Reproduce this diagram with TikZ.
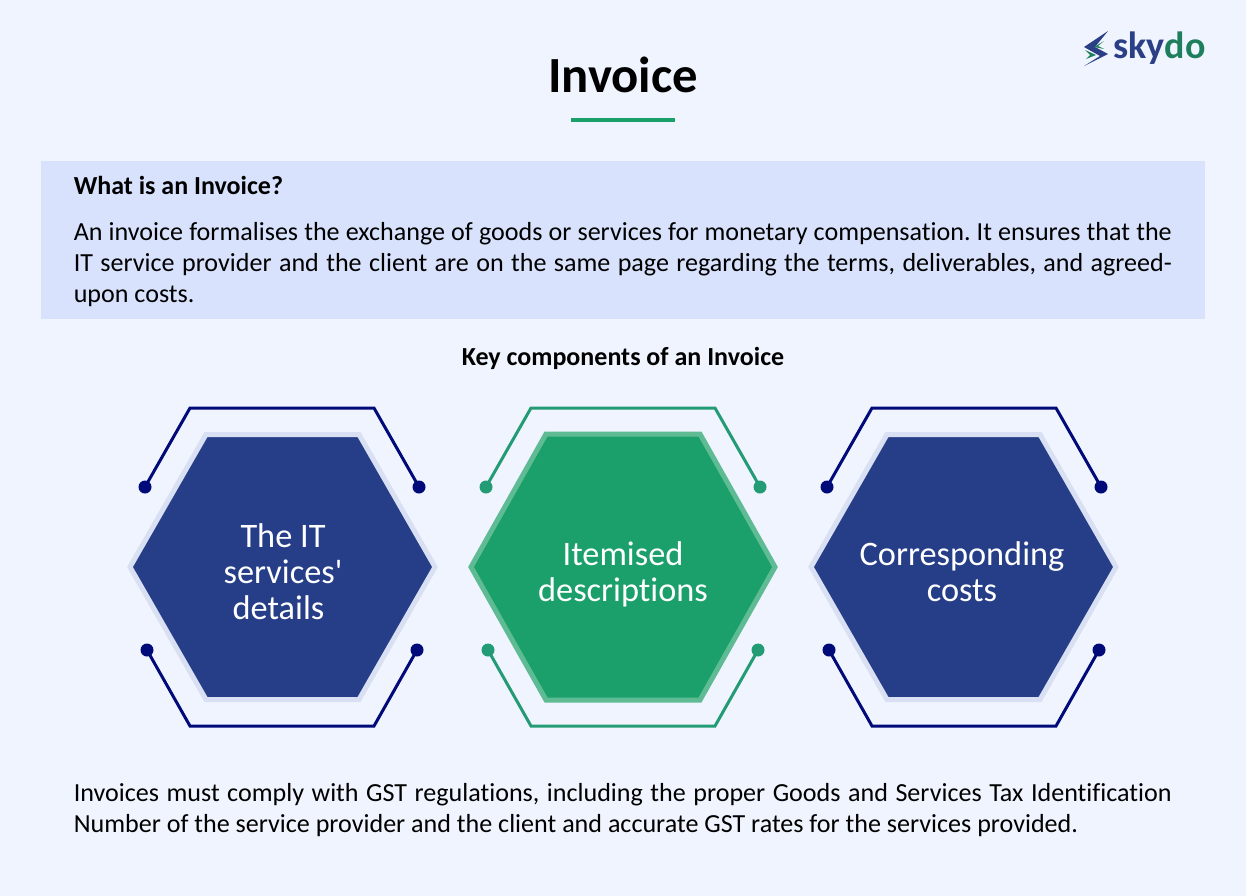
\documentclass[tikz,border=0pt]{standalone}
\usepackage{fontspec}
\setmainfont[Ligatures={NoCommon,TeXOff}]{Carlito}
\frenchspacing
\definecolor{pagebg}{HTML}{EFF4FE}
\definecolor{bandbg}{HTML}{D8E2FC}
\definecolor{navyfill}{HTML}{263E87}
\definecolor{navyhalo}{HTML}{D9E0F3}
\definecolor{navyline}{HTML}{000A78}
\definecolor{greenfill}{HTML}{1BA06B}
\definecolor{greenhalo}{HTML}{5FBB94}
\definecolor{greenline}{HTML}{239B74}
\definecolor{logonavy}{HTML}{2B3F86}
\definecolor{logogreen}{HTML}{1E7F5C}
\tikzset{
	bodytext/.style={text width=823.5pt,inner sep=0pt,align=justify,font=\fontsize{19.55}{23.25}\selectfont},
	headtext/.style={inner sep=0pt,font=\fontsize{19.5}{23}\selectfont\bfseries},
	hextext/.style={inner sep=0pt,align=center,text=white,font=\fontsize{25.75}{27}\selectfont},
}
\begin{document}
\begin{tikzpicture}[x=0.75pt,y=-0.75pt,line join=round,line cap=round]
	\useasboundingbox (0,0) rectangle (1246,896);
	\fill[pagebg] (0,0) rectangle (1246,896);
	\fill[bandbg] (41,161) rectangle (1205,319);
	\node[inner sep=0pt,font=\fontsize{38}{44}\selectfont\bfseries] (title) at (623,75) {Invoice};
	\path (571,120) coordinate (U_1) (675,120) coordinate (U_2);
	\draw[greenfill,line width=3pt,line cap=butt] (U_1)--(U_2);
	\node[headtext,anchor=base west] (what) at (73.5,194) {What is an Invoice?};
	\node[bodytext,anchor=base west] (intro) at (73.5,240) {An invoice formalises the exchange of goods or services for monetary compensation. It ensures that the\linebreak IT service provider and the client are on the same page regarding the terms, deliverables, and agreed-\linebreak upon costs.};
	\node[headtext,anchor=base] (key) at (623,365) {Key components of an Invoice};
	% hexagons
	\foreach \n/\cx/\hw/\tw/\hh/\fc/\hc/\hl in {
		1/282.5/152.5/76.5/132.5/navyfill/navyhalo/3.75pt,
		2/623/152/77/133/greenfill/greenhalo/3.75pt,
		3/963.5/152.5/76.5/132.5/navyfill/navyhalo/3.75pt}
	{
		\path
		(\cx-\hw,567) coordinate (H\n_1)
		(\cx-\tw,567-\hh) coordinate (H\n_2)
		(\cx+\tw,567-\hh) coordinate (H\n_3)
		(\cx+\hw,567) coordinate (H\n_4)
		(\cx+\tw,567+\hh) coordinate (H\n_5)
		(\cx-\tw,567+\hh) coordinate (H\n_6)
		;
		\draw[draw=\hc,fill=\fc,line width=\hl,line join=miter]
		(H\n_1)--(H\n_2)--(H\n_3)--(H\n_4)--(H\n_5)--(H\n_6)--cycle;
	}
	% brackets
	\foreach \n/\cx/\lc in {1/282/navyline,2/623/greenline,3/964/navyline}
	{
		\path
		(\cx-137,487) coordinate (T\n_1)
		(\cx-92,408) coordinate (T\n_2)
		(\cx+92,408) coordinate (T\n_3)
		(\cx+137,487) coordinate (T\n_4)
		(\cx-135,650) coordinate (B\n_1)
		(\cx-92,726) coordinate (B\n_2)
		(\cx+92,726) coordinate (B\n_3)
		(\cx+135,650) coordinate (B\n_4)
		;
		\draw[\lc,line width=2.25pt,line join=miter]
		(T\n_1)--(T\n_2)--(T\n_3)--(T\n_4)
		(B\n_1)--(B\n_2)--(B\n_3)--(B\n_4)
		;
		\foreach \x in {T\n_1,T\n_4,B\n_1,B\n_4} \fill[\lc] (\x) circle (6.5);
	}
	\node[hextext] (itemA) at (283,572) {The IT\\services'\\details\hspace*{6.75pt}};
	\node[hextext] (itemB) at (623,574) {Itemised\\descriptions};
	\node[hextext] (itemC) at (962,572) {Corresponding\\costs};
	\node[bodytext,anchor=base west] (note) at (73.5,801) {Invoices must comply with GST regulations, including the proper Goods and Services Tax Identification\linebreak Number of the service provider and the client and accurate GST rates for the services provided.};
	% logo
	\fill[logonavy] (1108,31)--(1084,47)--(1100,56)--(1084,66)--(1108,54)--(1095,47)--cycle;
	\fill[logogreen] (1104,41)--(1094,47)--(1104,49)--(1098,46)--cycle;
	\fill[logogreen] (1085,50)--(1096,55)--(1086,59)--(1090,55)--cycle;
	\node[inner sep=0pt,anchor=base west,font=\fontsize{28.5}{30}\selectfont\bfseries] (logo) at (1113,58) {\textcolor{logonavy}{sky}\textcolor{logogreen}{do}};
\end{tikzpicture}
\end{document}
